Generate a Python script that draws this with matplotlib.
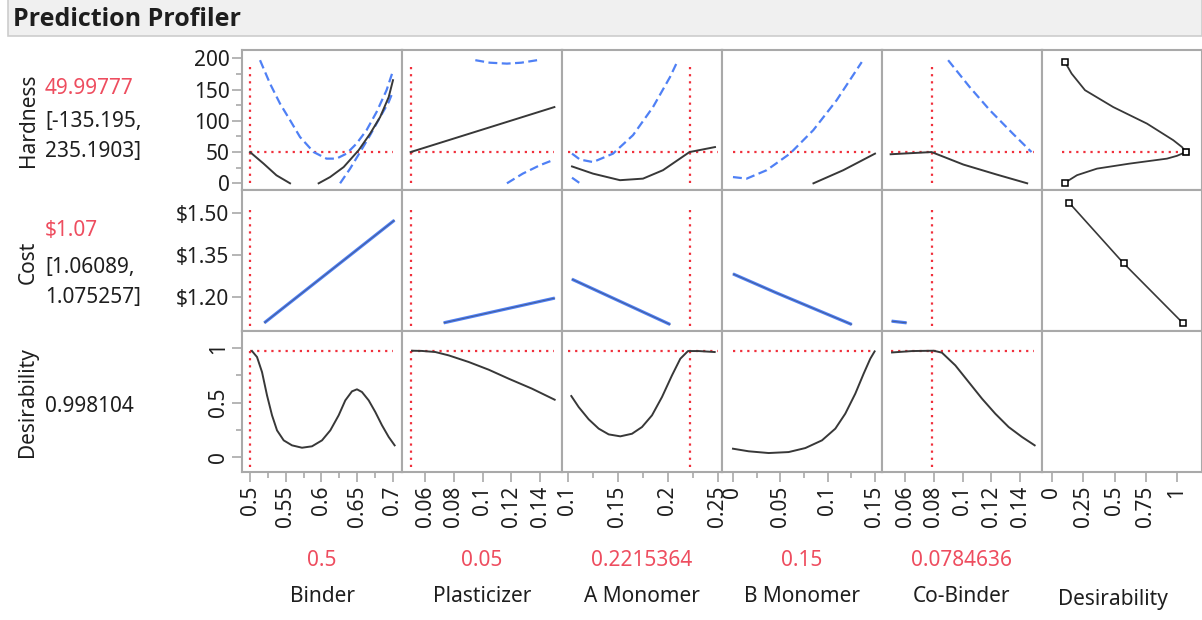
import matplotlib
matplotlib.use('Agg')
import matplotlib.pyplot as plt
import matplotlib.ticker as mticker
from matplotlib.patches import Rectangle
import numpy as np

plt.rcParams['font.family'] = ['Noto Sans', 'DejaVu Sans']

nan = np.nan

# factors and current settings
factors = ['Binder', 'Plasticizer', 'A Monomer', 'B Monomer', 'Co-Binder']
setting_labels = ['0.5', '0.05', '0.2215364', '0.15', '0.0784636']
settings = [0.5, 0.05, 0.2215364, 0.15, 0.0784636]
factor_lo = [0.5, 0.05, 0.1, 0.0, 0.05]
factor_hi = [0.7, 0.15, 0.25, 0.15, 0.15]
show_vline = [True, True, True, False, True]

responses = ['Hardness', 'Cost', 'Desirability']
response_values = ['49.99777', '$1.07', '0.998104']
response_ci = [['[-135.195,', '235.1903]'], ['[1.06089,', '1.075257]'], []]
hardness_line = 49.99777
desir_line = 0.975   # as drawn in the picture

# x axes
binder_ticks = [0.5, 0.55, 0.6, 0.65, 0.7]
plast_ticks = [0.06, 0.08, 0.1, 0.12, 0.14]
amono_ticks = [0.1, 0.15, 0.2, 0.25]
bmono_ticks = [0, 0.05, 0.1, 0.15]
cobind_ticks = [0.06, 0.08, 0.1, 0.12, 0.14]
desir_ticks = [0, 0.25, 0.5, 0.75, 1]

# ---- Hardness row ----
binder_hard_x = [0.50, 0.519, 0.537, 0.556, nan, 0.596, 0.612, 0.631, 0.652, 0.668, 0.682, 0.694, 0.70]
binder_hard_y = [50, 31.5, 12.8, 0, nan, 0, 10, 26, 53, 79.5, 106, 138, 165]
binder_hard_up_x = [0.514, 0.528, 0.542, 0.556, 0.570, 0.589, 0.607, 0.621, 0.635, 0.649, 0.663, 0.677, 0.691, 0.70]
binder_hard_up_y = [197, 159.5, 127.5, 101, 74, 50, 39.5, 39.5, 47.5, 63.5, 85, 114, 149, 180]
binder_hard_lo_x = [0.626, 0.640, 0.654, 0.668, 0.682, 0.694, 0.70]
binder_hard_lo_y = [0, 23.5, 50, 77, 106, 130, 147]

plast_hard_x = [0.05, 0.15]
plast_hard_y = [50, 122]
plast_hard_up_x = [0.095, 0.105, 0.117, 0.127, 0.138]
plast_hard_up_y = [197, 193, 191.5, 193, 197]
plast_hard_lo_x = [0.117, 0.128, 0.140, 0.150]
plast_hard_lo_y = [0, 15.5, 29, 38]

amono_hard_x = [0.104, 0.125, 0.152, 0.175, 0.195, 0.2215, 0.247]
amono_hard_y = [27, 15.5, 5, 7.5, 21, 50, 58]
amono_hard_up_x = [0.104, 0.112, 0.125, 0.145, 0.165, 0.185, 0.202, 0.210]
amono_hard_up_y = [47.5, 38, 34, 47.5, 77, 122, 170, 197]
amono_hard_lo_x = [0.104, 0.112]
amono_hard_lo_y = [9, 0]

bmono_hard_x = [0.085, 0.1165, 0.15]
bmono_hard_y = [0, 21, 47.5]
bmono_hard_up_x = [0.0, 0.0145, 0.0356, 0.0602, 0.0848, 0.1095, 0.136]
bmono_hard_up_y = [10, 7.5, 21, 47.5, 85, 133, 194]

cobind_hard_x = [0.05, 0.0785, 0.1006, 0.1238, 0.145]
cobind_hard_y = [46.5, 50, 30, 14, 0]
cobind_hard_up_x = [0.090, 0.105, 0.119, 0.135, 0.148]
cobind_hard_up_y = [197, 154, 117, 79.5, 50]

desir_hard_x = [0.104, 0.157, 0.264, 0.49, 0.76, 0.97, 1.04, 1.07, 1.0, 0.92, 0.62, 0.36, 0.2, 0.1]
desir_hard_y = [194, 175.5, 149, 122, 95.5, 69, 58, 50, 44, 39.5, 31.5, 23.5, 13, 0.5]

# ---- Cost row ----
binder_cost_x = [0.52, 0.702]
binder_cost_y = [1.106, 1.475]
plast_cost_x = [0.073, 0.1503]
plast_cost_y = [1.106, 1.195]
amono_cost_x = [0.1039, 0.2022]
amono_cost_y = [1.263, 1.10]
bmono_cost_x = [0.0, 0.045, 0.1255]
bmono_cost_y = [1.282, 1.215, 1.10]
cobind_cost_x = [0.0507, 0.0611]
cobind_cost_y = [1.112, 1.106]
desir_cost_x = [0.139, 0.573, 1.045]
desir_cost_y = [1.537, 1.320, 1.106]

# ---- Desirability row ----
binder_des_x = [0.5028, 0.5098, 0.5168, 0.5238, 0.5308, 0.5378, 0.5471, 0.5587, 0.5727, 0.5867, 0.6007,
                0.6123, 0.6240, 0.6333, 0.6426, 0.6496, 0.6566, 0.6660, 0.6753, 0.6846, 0.6940, 0.7023]
binder_des_y = [0.975, 0.920, 0.781, 0.566, 0.382, 0.243, 0.151, 0.105, 0.083, 0.096, 0.151,
                0.243, 0.382, 0.520, 0.603, 0.622, 0.597, 0.520, 0.412, 0.290, 0.182, 0.105]
plast_des_x = [0.0510, 0.0579, 0.0672, 0.0765, 0.0904, 0.1043, 0.1182, 0.1344, 0.1502]
plast_des_y = [0.978, 0.976, 0.966, 0.935, 0.874, 0.803, 0.720, 0.628, 0.526]
amono_des_x = [0.1033, 0.1107, 0.1207, 0.1307, 0.1407, 0.1523, 0.1640, 0.1740, 0.1840, 0.1940, 0.2040,
               0.2123, 0.2200, 0.2307, 0.2467]
amono_des_y = [0.560, 0.458, 0.345, 0.259, 0.206, 0.188, 0.212, 0.274, 0.382, 0.551, 0.751,
               0.904, 0.975, 0.975, 0.966]
bmono_des_x = [0.0, 0.0166, 0.0377, 0.0588, 0.0764, 0.0940, 0.1081, 0.1186, 0.1292, 0.1380, 0.1450, 0.1496]
bmono_des_y = [0.074, 0.050, 0.034, 0.043, 0.080, 0.151, 0.259, 0.397, 0.582, 0.766, 0.904, 0.972]
cobind_des_x = [0.0510, 0.0649, 0.0800, 0.0857, 0.0950, 0.1043, 0.1136, 0.1228, 0.1321, 0.1414, 0.1502]
cobind_des_y = [0.962, 0.975, 0.978, 0.960, 0.843, 0.689, 0.535, 0.397, 0.274, 0.182, 0.105]

BLACK = '#383838'
BLUE = '#4f80f5'
RED = '#f0303c'
TXT_RED = '#ee4d5f'
GRID = '#a9a9a9'
TXT = '#1e1e1e'

W, H = 1202, 620
fig = plt.figure(figsize=(W / 100, H / 100), dpi=100)
fig.patch.set_facecolor('white')

# title bar
fig.patches.append(Rectangle((8 / W, 1 - 36 / H), (W - 8) / W, 40 / H, transform=fig.transFigure,
                             facecolor='#f0f0f0', edgecolor='#cdcdcd', lw=1.2))
fig.text(13 / W, 1 - 20 / H, 'Prediction Profiler', fontsize=18, fontweight='bold', color=TXT,
         family=['Open Sans', 'DejaVu Sans'], va='center', ha='left')

col_left = [242, 402, 562, 722, 882, 1042]
col_w = 160
row_top = [50, 190, 331]
row_h = [140, 141, 141]

xlims = [(0.4888, 0.7126), (0.044, 0.1553), (0.094, 0.254), (-0.0116, 0.1574), (0.044, 0.1553), (-0.08, 1.2)]
ylims = [(-10.7, 213.3), (1.0766, 1.5838), (-0.141, 1.16)]
vline_span = [(0, 186), (1.094, 1.517), (-0.095, desir_line)]

x_major = [binder_ticks, plast_ticks, amono_ticks, bmono_ticks, cobind_ticks, desir_ticks]
x_minor = [[0.525, 0.575, 0.625, 0.675], [], [0.125, 0.175, 0.225], [0.025, 0.075, 0.125], [], []]
y_major = [[0, 50, 100, 150, 200], [1.20, 1.35, 1.50], [0, 0.5, 1]]
y_minor = [[25, 75, 125, 175], [], [0.25, 0.75]]

hard_curves = [
    [(binder_hard_x, binder_hard_y), (binder_hard_up_x, binder_hard_up_y), (binder_hard_lo_x, binder_hard_lo_y)],
    [(plast_hard_x, plast_hard_y), (plast_hard_up_x, plast_hard_up_y), (plast_hard_lo_x, plast_hard_lo_y)],
    [(amono_hard_x, amono_hard_y), (amono_hard_up_x, amono_hard_up_y), (amono_hard_lo_x, amono_hard_lo_y)],
    [(bmono_hard_x, bmono_hard_y), (bmono_hard_up_x, bmono_hard_up_y)],
    [(cobind_hard_x, cobind_hard_y), (cobind_hard_up_x, cobind_hard_up_y)],
]
cost_curves = [(binder_cost_x, binder_cost_y), (plast_cost_x, plast_cost_y), (amono_cost_x, amono_cost_y),
               (bmono_cost_x, bmono_cost_y), (cobind_cost_x, cobind_cost_y)]
des_curves = [(binder_des_x, binder_des_y), (plast_des_x, plast_des_y), (amono_des_x, amono_des_y),
              (bmono_des_x, bmono_des_y), (cobind_des_x, cobind_des_y)]

dotted = (0, (1, 2.2))
dashed = (0, (4, 2))

def fmt_num(v, pos=None):
    return f'{round(v, 4):g}'

def fmt_cost(v, pos=None):
    return f'${v:.2f}'

for r in range(3):
    for c in range(6):
        ax = fig.add_axes([col_left[c] / W, 1 - (row_top[r] + row_h[r]) / H, col_w / W, row_h[r] / H])
        ax.set_xlim(*xlims[c])
        ax.set_ylim(*ylims[r])
        for s in ax.spines.values():
            s.set_color(GRID)
            s.set_linewidth(1.5)
        ax.tick_params(which='both', left=False, labelleft=False, bottom=False, labelbottom=False)

        # y axis on the first column
        if c == 0:
            ax.yaxis.set_major_locator(mticker.FixedLocator(y_major[r]))
            ax.yaxis.set_minor_locator(mticker.FixedLocator(y_minor[r]))
            ax.yaxis.set_major_formatter(mticker.FuncFormatter(fmt_cost if r == 1 else fmt_num))
            ax.tick_params(axis='y', which='major', left=True, labelleft=True, length=7, width=1.2,
                           color=GRID, labelsize=15, labelcolor=TXT, pad=2)
            ax.tick_params(axis='y', which='minor', left=True, length=4, width=1.2, color=GRID)
            if r == 2:
                for lab in ax.get_yticklabels():
                    lab.set_rotation(90)
                    lab.set_va('center')

        # x axis on the bottom row
        if r == 2:
            ax.xaxis.set_major_locator(mticker.FixedLocator(x_major[c]))
            ax.xaxis.set_minor_locator(mticker.FixedLocator(x_minor[c]))
            ax.xaxis.set_major_formatter(mticker.FuncFormatter(fmt_num))
            ax.tick_params(axis='x', which='major', bottom=True, labelbottom=True, length=7, width=1.2,
                           color=GRID, labelsize=15, labelcolor=TXT, pad=3, labelrotation=90)
            ax.tick_params(axis='x', which='minor', bottom=True, length=4, width=1.2, color=GRID)

        if c < 5:
            # reference lines
            if show_vline[c]:
                ax.plot([settings[c]] * 2, vline_span[r], color=RED, lw=1.6, ls=dotted)
            if r == 0:
                ax.plot([factor_lo[c], factor_hi[c]], [hardness_line] * 2, color=RED, lw=1.6, ls=dotted)
                curves = hard_curves[c]
                for (bx, by) in curves[1:]:
                    ax.plot(bx, by, color=BLUE, lw=1.6, ls=dashed)
                ax.plot(curves[0][0], curves[0][1], color=BLACK, lw=1.4)
            elif r == 1:
                cx, cy = cost_curves[c]
                ax.plot(cx, cy, color=BLUE, lw=2.3, solid_capstyle='butt')
                ax.plot(cx, cy, color=BLACK, lw=0.7, alpha=0.5)
            else:
                ax.plot([factor_lo[c], factor_hi[c]], [desir_line] * 2, color=RED, lw=1.6, ls=dotted)
                dx, dy = des_curves[c]
                ax.plot(dx, dy, color=BLACK, lw=1.4)
        else:
            if r == 0:
                ax.plot([0.078, 1.07], [hardness_line] * 2, color=RED, lw=1.6, ls=dotted)
                ax.plot(desir_hard_x, desir_hard_y, color=BLACK, lw=1.3)
                ax.plot([desir_hard_x[0], desir_hard_x[-1]], [desir_hard_y[0], desir_hard_y[-1]], ls='none',
                        marker='s', ms=4, mfc='white', mec='black', mew=1.1)
                ax.plot([desir_hard_x[7]], [desir_hard_y[7]], ls='none', marker='s', ms=5, mfc='white',
                        mec='black', mew=1.2)
            elif r == 1:
                ax.plot(desir_cost_x, desir_cost_y, color=BLACK, lw=1.2, marker='s', ms=4.5, mfc='white',
                        mec='black', mew=1.1)

# left labels
label_y = [120, 262, 402]
for r in range(3):
    fig.text(28 / W, 1 - label_y[r] / H, responses[r], rotation=90, fontsize=15, color=TXT,
             ha='center', va='center')
fig.text(45 / W, 1 - 89 / H, response_values[0], fontsize=15, color=TXT_RED, ha='left', va='center')
fig.text(45 / W, 1 - 122 / H, response_ci[0][0], fontsize=15, color=TXT, ha='left', va='center')
fig.text(45 / W, 1 - 152 / H, response_ci[0][1], fontsize=15, color=TXT, ha='left', va='center')
fig.text(45 / W, 1 - 230 / H, response_values[1], fontsize=15, color=TXT_RED, ha='left', va='center')
fig.text(45 / W, 1 - 267 / H, response_ci[1][0], fontsize=15, color=TXT, ha='left', va='center')
fig.text(45 / W, 1 - 297 / H, response_ci[1][1], fontsize=15, color=TXT, ha='left', va='center')
fig.text(45 / W, 1 - 407 / H, response_values[2], fontsize=15, color=TXT, ha='left', va='center')

# bottom labels
for c in range(5):
    cx = (col_left[c] + col_w / 2) / W
    fig.text(cx, 1 - 560 / H, setting_labels[c], fontsize=15, color=TXT_RED, ha='center', va='center')
    fig.text(cx, 1 - 597 / H, factors[c], fontsize=15, color=TXT, ha='center', va='center')
fig.text(1113 / W, 1 - 599 / H, 'Desirability', fontsize=15, color=TXT, ha='center', va='center')

fig.savefig('out.png', dpi=100)
